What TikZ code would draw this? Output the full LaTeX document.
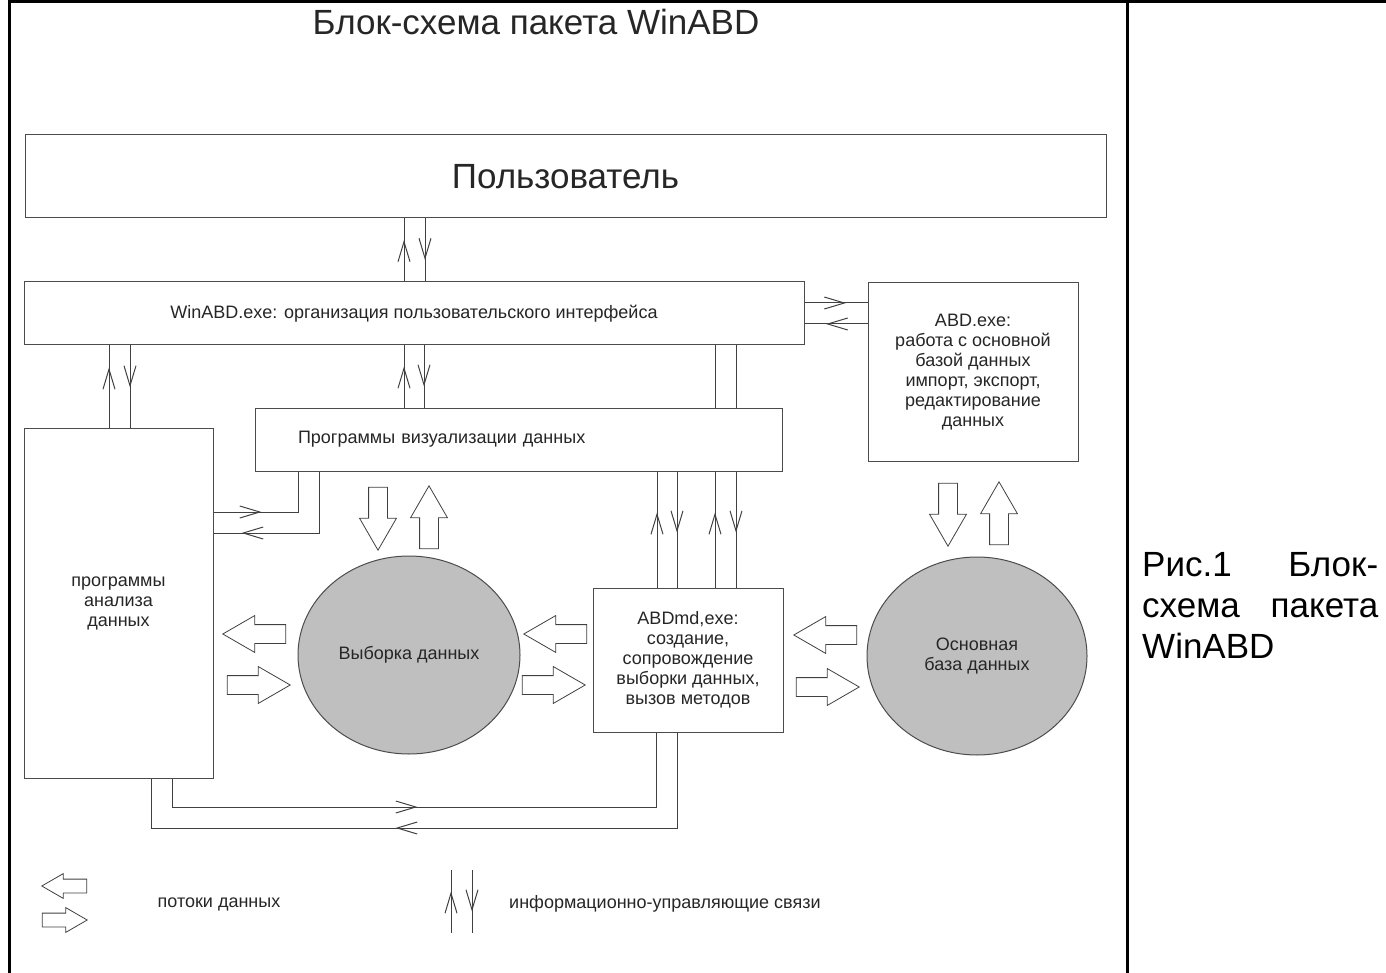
\documentclass[tikz,border=0pt]{standalone}
\usepackage{fontspec}
\setmainfont{Liberation Sans}
\usetikzlibrary{positioning,shapes.geometric,shapes.arrows,arrows.meta,decorations.markings}

\tikzset{
  box/.style={rectangle, draw=black!70, fill=white, line width=1pt, inner sep=0pt, text=black!85, font=\fontsize{18}{20}\selectfont, align=center},
  store/.style={ellipse, draw=black!70, fill=black!25, line width=1pt, inner sep=0pt, text=black!85, font=\fontsize{18}{20}\selectfont, align=center, minimum height=198pt},
  link/.style={draw=black!75, line width=1pt},
  tip/.style={postaction={decorate}, decoration={markings, mark=at position #1 with {\arrow[xshift=10pt]{Straight Barb[length=20pt, width=12pt, line width=1pt]}}}},
  tip/.default=0.5,
  flow/.style={single arrow, draw=black!75, fill=white, line width=0.8pt, inner xsep=0pt, inner ysep=9pt, minimum height=63pt, single arrow head extend=9pt, single arrow tip angle=60, anchor=tip},
  small flow/.style={flow, minimum height=45pt, inner ysep=6.5pt, single arrow head extend=5.5pt},
  frame/.style={draw=black, line width=3pt}
}

\begin{document}
\begin{tikzpicture}[x=1pt, y=-1pt]
  \useasboundingbox (0,0) rectangle (1386,973);
  \draw[frame] (9,0) -- (9,973);
  \draw[frame] (8,1.5) -- (1386,1.5);
  \draw[frame] (1127,0) -- (1127,973);

  \node[anchor=base, font=\fontsize{35}{40}\selectfont, text=black!85] (title) at (536,35) {Блок-схема пакета WinABD};
  \node[anchor=west, font=\fontsize{35}{41}\selectfont, text width=236pt, inner sep=0pt] (caption) at (1142,605) {Рис.1\hfill Блок-\\ схема\hfill пакета\\ WinABD};

  % blocks
  \node[box, minimum width=1081pt, minimum height=83pt, font=\fontsize{35}{40}\selectfont] (user) at (565.5,176.5) {Пользователь};
  \node[box, minimum width=780pt, minimum height=63pt] (exe) at (414,313.5) {WinABD.exe: организация пользовательского интерфейса};
  \node[box, minimum width=210pt, minimum height=178pt] (abd) at (973,372) {ABD.exe:\\ работа с основной\\ базой данных\\ импорт, экспорт,\\ редактирование\\ данных};
  \node[box, minimum width=189pt, minimum height=350pt] (analysis) at (118.5,603) {программы\\ анализа\\ данных};
  \node[box, minimum width=527pt, minimum height=63pt, text width=441pt, inner xsep=43pt, align=left] (vis) at (518.5,439.5) {Программы визуализации данных};
  \node[box, minimum width=190pt, minimum height=144pt] (md) at (688,660) {ABDmd,exe:\\ создание,\\ сопровождение\\ выборки данных,\\ вызов методов};
  \node[store, minimum width=222pt] (sample) at (409,655) {Выборка данных};
  \node[store, minimum width=220pt] (base) at (977,656) {Основная\\ база данных};

  % data flows
  \node[flow, rotate=-90] (vis2sample) at (378,551) {};
  \node[flow, rotate=90] (sample2vis) at (429,485) {};
  \node[flow, rotate=-90] (abd2base) at (948,547) {};
  \node[flow, rotate=90] (base2abd) at (999,481) {};
  \node[flow, rotate=180] (sample2analysis) at (222,634) {};
  \node[flow] (analysis2sample) at (291,685) {};
  \node[flow, rotate=180] (md2sample) at (523,634) {};
  \node[flow] (sample2md) at (586,685) {};
  \node[flow, rotate=180] (base2md) at (793,635) {};
  \node[flow] (md2base) at (860,687) {};

  % control links
  \draw[link, tip] (404,0 |- exe.north) -- (404,0 |- user.south);
  \draw[link, tip] (425,0 |- user.south) -- (425,0 |- exe.north);
  \draw[link, tip=0.61] (109,0 |- analysis.north) -- (109,0 |- exe.south);
  \draw[link, tip=0.39] (130,0 |- exe.south) -- (130,0 |- analysis.north);
  \draw[link, tip] (404,0 |- vis.north) -- (404,0 |- exe.south);
  \draw[link, tip] (424,0 |- exe.south) -- (424,0 |- vis.north);
  \draw[link] (715,0 |- exe.south) -- (715,0 |- vis.north);
  \draw[link] (736,0 |- exe.south) -- (736,0 |- vis.north);
  \draw[link, tip=0.56] (657,0 |- md.north) -- (657,0 |- vis.south);
  \draw[link, tip=0.44] (677,0 |- vis.south) -- (677,0 |- md.north);
  \draw[link, tip=0.56] (715,0 |- md.north) -- (715,0 |- vis.south);
  \draw[link, tip=0.44] (736,0 |- vis.south) -- (736,0 |- md.north);
  \draw[link, tip] (exe.east |- 0,303) -- (abd.west |- 0,303);
  \draw[link, tip] (abd.west |- 0,324) -- (exe.east |- 0,324);
  \draw[link, tip=38pt] (analysis.east |- 0,512) -- (298,512) -- (298,0 |- vis.south);
  \draw[link, tip=129pt] (319,0 |- vis.south) -- (319,533) -- (analysis.east |- 0,533);
  \draw[link, tip=264pt] (172,0 |- analysis.south) -- (172,807) -- (656,807) -- (656,0 |- md.south);
  \draw[link, tip=367pt] (677,0 |- md.south) -- (677,828) -- (151,828) -- (151,0 |- analysis.south);

  % legend
  \node[small flow, rotate=180] (key left) at (41,886) {};
  \node[small flow] (key right) at (88,920) {};
  \node[text=black!85, font=\fontsize{18}{20}\selectfont] (key flow) at (219,904) {потоки данных};
  \coordinate (key a) at (451,933);
  \coordinate (key b) at (451,870);
  \coordinate (key c) at (472,870);
  \coordinate (key d) at (472,933);
  \draw[link, tip] (key a) -- (key b);
  \draw[link, tip] (key c) -- (key d);
  \node[anchor=west, inner sep=0pt, text=black!85, font=\fontsize{18}{20}\selectfont] (key link) at (509,904) {информационно-управляющие связи};
\end{tikzpicture}
\end{document}
